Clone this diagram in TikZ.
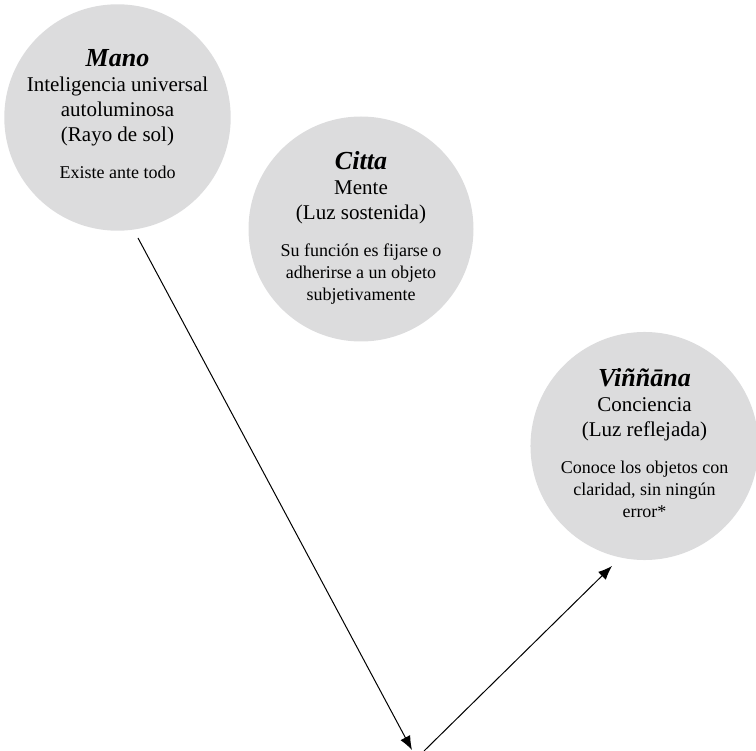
\documentclass[tikz,border=0pt]{standalone}
\usepackage{fontspec}
\setmainfont{Liberation Serif}
\usetikzlibrary{arrows.meta}
\definecolor{discgray}{RGB}{220,220,221}
\newcommand{\disctitle}[1]{{\fontsize{26}{28}\selectfont\bfseries\itshape #1}}
\newcommand{\discnote}[1]{{\fontsize{18}{22}\selectfont\begin{tabular}[t]{@{}c@{}}#1\end{tabular}}}
\begin{document}
\begin{tikzpicture}[x=1pt,y=-1pt]
			\tikzstyle{disc}=[circle,fill=discgray,minimum size=225pt,inner sep=0pt,align=center,font=\fontsize{21}{25}\selectfont]
			\tikzstyle{flow}=[black,line width=1pt,-{Latex[length=14pt,width=11pt]}]
			\useasboundingbox (0,0) rectangle (756,751);
			\node[disc] (mano) at (117.5,117.5) {\disctitle{Mano}\\ Inteligencia universal\\ autoluminosa\\ (Rayo de sol)\\[12pt] \discnote{Existe ante todo}};
			\node[disc] (citta) at (361,229) {\disctitle{Citta}\\ Mente\\ (Luz sostenida)\\[12pt] \discnote{Su función es fijarse o\\ adherirse a un objeto\\ subjetivamente}};
			\node[disc] (vinnana) at (644.5,446) {\disctitle{Viññāna}\\ Conciencia\\ (Luz reflejada)\\[12pt] \discnote{Conoce los objetos con\\ claridad, sin ningún\\ error*}};
			\coordinate (mano out) at (138,238);
			\coordinate (low left) at (412,750);
			\coordinate (low right) at (424,751);
			\coordinate (vinnana in) at (612,566);
			\draw [flow] (mano out) -- (low left);
			\draw [flow] (low right) -- (vinnana in);
		\end{tikzpicture}
\end{document}
